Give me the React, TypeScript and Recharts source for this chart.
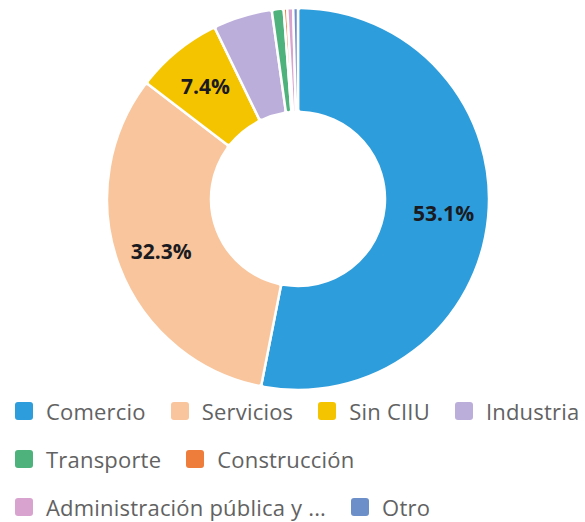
import React from "react";
import { PieChart, Pie, Cell, Legend } from "recharts";

const categories = [
  "Comercio",
  "Servicios",
  "Sin CIIU",
  "Industria",
  "Transporte",
  "Construcción",
  "Administración pública y ...",
  "Otro",
];
const values = [53.1, 32.3, 7.4, 5.0, 1.0, 0.3, 0.5, 0.4];
const colors = [
  "#2E9DDB",
  "#F9C59C",
  "#F5C400",
  "#BBAEDB",
  "#4DB27B",
  "#EE7C3A",
  "#D9A3CF",
  "#6D8FC9",
];

const data = categories.map((name, i) => ({ name, value: values[i] }));

const RAD = Math.PI / 180;

const renderLabel = (props: any) => {
  const { cx, cy, midAngle, innerRadius, outerRadius, percent } = props;
  if (percent < 0.06) return null;
  const r = innerRadius + (outerRadius - innerRadius) * 0.57;
  const x = cx + r * Math.cos(-midAngle * RAD);
  const y = cy + r * Math.sin(-midAngle * RAD);
  return (
    <text
      x={x}
      y={y}
      textAnchor="middle"
      dominantBaseline="central"
      fill="#1a1a20"
      fontSize={21}
      fontWeight={700}
      fontFamily="'Open Sans', sans-serif"
    >
      {(percent * 100).toFixed(1)}%
    </text>
  );
};

const LegendContent = () => {
  const breaks = [0, 4, 6, categories.length];
  const rows: number[][] = [];
  for (let r = 0; r < breaks.length - 1; r++) {
    const row: number[] = [];
    for (let i = breaks[r]; i < breaks[r + 1]; i++) row.push(i);
    rows.push(row);
  }
  return (
    <div
      style={{
        paddingLeft: 15,
        fontFamily: "'Open Sans', sans-serif",
        fontSize: 22,
        letterSpacing: 0.2,
        color: "#626262",
        width: 585,
        boxSizing: "border-box",
      }}
    >
      {rows.map((row, ri) => (
        <div key={ri} style={{ display: "flex", flexWrap: "nowrap", height: 48, alignItems: "center" }}>
          {row.map((i) => (
            <div key={categories[i]} style={{ display: "flex", alignItems: "center", marginRight: 25 }}>
              <div
                style={{
                  width: 18,
                  height: 18,
                  borderRadius: 3,
                  background: colors[i],
                  marginRight: 13,
                  flexShrink: 0,
                }}
              />
              <span style={{ whiteSpace: "nowrap" }}>{categories[i]}</span>
            </div>
          ))}
        </div>
      ))}
    </div>
  );
};

export default function App() {
  return (
    <div style={{ position: "absolute", left: 0, top: 0, width: 585, height: 522, background: "#fff" }}>
      <PieChart width={585} height={522} margin={{ top: 0, right: 0, bottom: 0, left: 0 }}>
        <Pie
          data={data}
          dataKey="value"
          nameKey="name"
          cx={298}
          cy={199}
          innerRadius={87}
          outerRadius={191}
          startAngle={90}
          endAngle={-270}
          stroke="#ffffff"
          strokeWidth={2.5}
          cornerRadius={3}
          label={renderLabel}
          labelLine={false}
          isAnimationActive={false}
        >
          {data.map((d, i) => (
            <Cell key={d.name} fill={colors[i]} />
          ))}
        </Pie>
        <Legend
          content={<LegendContent />}
          wrapperStyle={{ position: "absolute", left: 0, top: 387, width: 585 }}
        />
      </PieChart>
    </div>
  );
}
